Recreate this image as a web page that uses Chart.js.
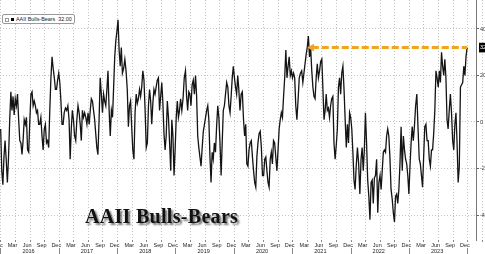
<!DOCTYPE html>
<html><head><meta charset="utf-8">
<script src="https://cdn.jsdelivr.net/npm/chart.js@4/dist/chart.umd.min.js"></script>
<style>
html,body{margin:0;padding:0;background:#fff;overflow:hidden;width:485px;height:254px}
#wrap{position:relative;width:485px;height:254px}
canvas{display:block}
#legend{position:absolute;left:2px;top:14px;height:8px;padding:0 2px 0 2px;border:1px solid #9a9a9a;border-radius:2px;background:#fff;font:5.4px 'Liberation Sans',Arial,sans-serif;line-height:8px;color:#222;white-space:nowrap}
#legend .s1{display:inline-block;width:2px;height:2px;border:0.5px solid #999;vertical-align:middle;margin-right:1.5px}
#legend .s2{display:inline-block;width:3.5px;height:3.5px;background:#000;vertical-align:middle;margin-right:2px}
#title{position:absolute;left:85px;top:205px;font:bold 20px 'Liberation Serif','Times New Roman',serif;letter-spacing:0.3px;color:#111;text-shadow:2px 2px 2px rgba(0,0,0,.55);white-space:nowrap}
</style></head>
<body>
<div id="wrap">
<canvas id="c" width="485" height="254"></canvas>
<div id="legend"><span class="s1"></span><span class="s2"></span>AAII Bulls-Bears&nbsp; 32.00</div>
<div id="title">AAII Bulls-Bears</div>
</div>
<script>
// ---- data ----
const seriesName = 'AAII Bulls-Bears';
const firstWeek = [2015, 12, 31];            // first weekly observation (Y, M, D)
const bullsMinusBears = [
 -3,-21,-27,-15,-8,-16,-26,-15,1,13, 5,11,3,10,7,12,1,-8,-9,-14,
 -8,1,-1,2,-12,-13,1,12,13,7, 9,7,4,5,-1,-1,2,-6,-12,-3,
 -1,-9,-8,-11,5,19,28,23,19,14, 14,18,21,17,9,-1,-1,4,6,5,
 7,1,-16,-3,5,1,-6,-8,1,7, 4,-1,
 -8,5,2,4,2,-1,4,-1,5,10, 9,5,1,-5,-11,-14,1,19,12,4,
 12,9,7,14,22,5,-6,5,2,15, 28,35,39,44,31,24,32,21,23,27,
 22,14,-2,7,9,-2,-12,-16,4,12, 8,10,14,11,15,22,18,5,-11,-9,
 7,14,9,-1,8,14,12,15,18,19,
 5,11,17,8,-5,-12,-6,9,2,-9, -21,1,-6,-23,-12,2,9,2,5,10,
 5,10,19,22,11,5,13,12,7,16, 18,12,20,11,-6,-11,-15,-19,-11,-4,
 -1,2,5,7,1,-15,-26,-13,-16,-9, -13,-2,7,2,-9,-23,-9,5,7,12,
 17,15,7,4,11,19,24,19,15,
 12,20,14,5,12,13,1,-6,-1,-18, -19,-12,-9,-8,-15,-21,-26,-28,-15,-9,
 -5,-4,-11,-23,-23,-16,-15,-21,-26,-28, -16,-13,-18,-8,-9,-15,-21,-12,-3,1,
 4,2,11,19,31,19,24,28,20,22, 19,21,19,7,1,9,19,21,22,17,
 21,25,29,32,37,28,32,22,
 15,11,10,19,25,19,22,26,27,14, 1,5,12,5,6,2,7,10,11,-9,
 -16,-10,-3,15,19,12,21,24,14,1, -11,-1,-9,4,2,-3,-13,-25,-29,-19,
 -11,-18,-31,-16,-11,-21,-12,4,-9,-25, -32,-42,-26,-25,-35,-24,-23,-16,-39,-26,
 -23,-29,-21,-13,-12,-13,-6,-3,-6,-15,
 -29,-33,-39,-43,-32,-31,-35,-29,-18,-2, -21,-6,-12,-16,-18,-23,-31,-19,-9,-2,
 -8,-2,7,12,-3,-16,-18,-23,-28,-15, -2,-1,-8,-8,-16,-19,-12,-12,-5,5,
 22,19,15,22,17,30,24,20,27,19, 1,-3,5,12,4,-8,-12,-1,4,-9,
 -26,-19,15,16,17,24,20,28,32
];
const lastValue = 32.00;
const arrowStartWeek = 278;                   // week index where the highlight arrow begins
const monthLabels = ['Mar','Jun','Sep','Dec'];
const monthLabelIndex = [2,5,8,11];
const years = [2016,2017,2018,2019,2020,2021,2022,2023];
const yTickValues = [-40,-20,0,20,40];

// ---- helpers ----
function toMonths(d){
  const y=d.getUTCFullYear(), mo=d.getUTCMonth(), day=d.getUTCDate();
  const dim=new Date(Date.UTC(y,mo+1,0)).getUTCDate();
  return (y-2016)*12+mo+(day-1)/dim;
}
function weekDate(i){ return new Date(Date.UTC(firstWeek[0], firstWeek[1]-1, firstWeek[2]+7*i)); }
const points = bullsMinusBears.map((v,i)=>({x:toMonths(weekDate(i)), y:v}));
const arrowPts = [
  {x:toMonths(weekDate(arrowStartWeek)), y:lastValue},
  {x:toMonths(weekDate(bullsMinusBears.length-1)), y:lastValue}
];

// x ticks: quarter boundaries carry the grid, month labels sit between them
const monthTicks=[];
for(let m=-3;m<=99;m+=3) monthTicks.push({value:m,lbl:'',grid:true});
monthTicks.push({value:-1+0.4,lbl:'Dec',grid:false});
years.forEach(y=>monthLabelIndex.forEach((k,j)=>monthTicks.push({value:(y-2016)*12+k+0.4,lbl:monthLabels[j],grid:false})));
monthTicks.sort((a,b)=>a.value-b.value);
const yearTicks=[];
for(let y=2016;y<=2024;y++) yearTicks.push({value:(y-2016)*12,lbl:'',grid:true});
years.forEach(y=>yearTicks.push({value:(y-2016)*12+5.7,lbl:String(y),grid:false}));
yearTicks.sort((a,b)=>a.value-b.value);

const GRID='#c2c2c2';
const axisFont={family:"'Liberation Sans', Arial, sans-serif", size:5.5};

new Chart(document.getElementById('c'),{
  type:'line',
  data:{datasets:[
    {label:'arrow',data:arrowPts,borderColor:'#F3A41F',backgroundColor:'#F3A41F',borderWidth:3,
     borderDash:[7,3],pointStyle:'triangle',pointRotation:270,pointRadius:[4.5,0],pointBorderWidth:0,order:0},
    {label:seriesName,data:points,borderColor:'#141414',borderWidth:1.3,pointRadius:0,tension:0,order:1}
  ]},
  options:{
    responsive:false,animation:false,devicePixelRatio:1,
    layout:{padding:0,autoPadding:false},
    plugins:{legend:{display:false},tooltip:{enabled:false},title:{display:false}},
    scales:{
      x:{type:'linear',position:'bottom',weight:0,min:-0.17,max:97.7,
        afterBuildTicks:s=>{s.ticks=monthTicks.map(t=>({...t}));},
        afterFit:s=>{s.height=8;s.paddingLeft=0;s.paddingRight=0;},
        grid:{color:c=>c.tick&&c.tick.grid?GRID:'rgba(0,0,0,0)',tickColor:c=>c.tick&&c.tick.grid?'#888':'rgba(0,0,0,0)',tickLength:2,lineWidth:1},
        border:{display:false,dash:[1,2]},
        ticks:{autoSkip:false,maxRotation:0,minRotation:0,padding:0,color:'#222',font:axisFont,callback:(v,i,t)=>t[i].lbl}
      },
      x2:{type:'linear',position:'bottom',weight:1,min:-0.17,max:97.7,
        afterBuildTicks:s=>{s.ticks=yearTicks.map(t=>({...t}));},
        afterFit:s=>{s.height=6;s.paddingLeft=0;s.paddingRight=0;},
        grid:{drawOnChartArea:false,color:'rgba(0,0,0,0)',tickColor:c=>c.tick&&c.tick.grid?'#888':'rgba(0,0,0,0)',tickLength:6},
        border:{display:false},
        ticks:{autoSkip:false,maxRotation:0,minRotation:0,padding:-5.5,color:'#222',font:axisFont,callback:(v,i,t)=>t[i].lbl}
      },
      y:{type:'linear',position:'right',min:-50.75,max:52.47,
        afterBuildTicks:s=>{s.ticks=yTickValues.concat([lastValue]).sort((a,b)=>a-b).map(v=>({value:v}));},
        afterFit:s=>{s.width=9;s.paddingTop=0;s.paddingBottom=0;},
        grid:{color:c=>c.tick&&c.tick.value===lastValue?'rgba(0,0,0,0)':GRID,
              tickColor:c=>c.tick&&c.tick.value===lastValue?'rgba(0,0,0,0)':'#666',tickLength:3},
        border:{display:true,color:'#777',width:1,dash:[1,2]},
        ticks:{padding:1,font:axisFont,
          color:c=>c.tick&&c.tick.value===lastValue?'#fff':'#333',
          showLabelBackdrop:c=>!!(c.tick&&c.tick.value===lastValue),
          backdropColor:'#000',backdropPadding:{top:1.5,bottom:1.5,left:1,right:3},
          callback:v=>v===lastValue?lastValue.toFixed(0):v}
      }
    }
  }
});
</script>
</body></html>
